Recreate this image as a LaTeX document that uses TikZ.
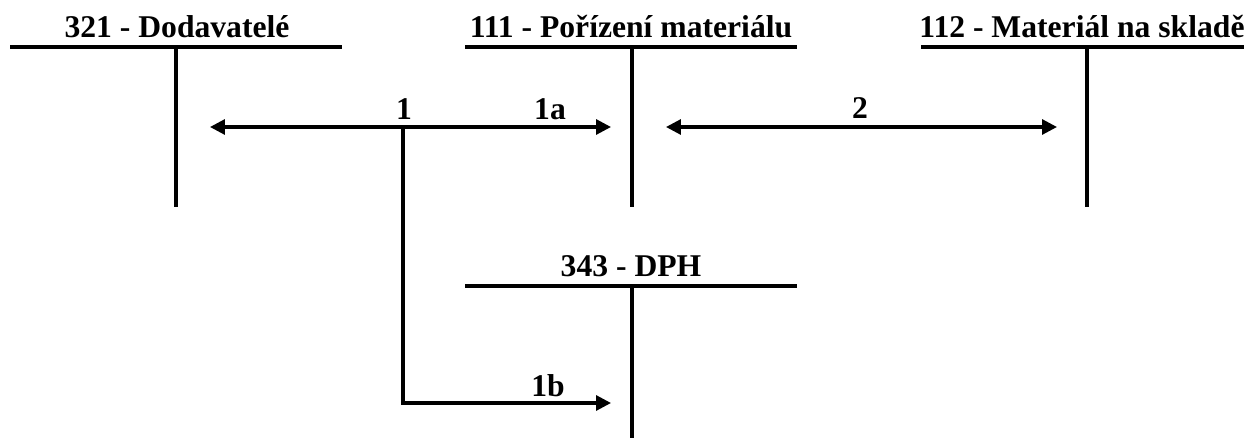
\documentclass[tikz,border=0pt]{standalone}
\usepackage{fontspec}
\setmainfont{Liberation Serif}
\usetikzlibrary{arrows.meta}
\begin{document}
\begin{tikzpicture}[x=0.2mm, y=-0.2mm,
    acctitle/.style={font=\fontsize{18}{21}\selectfont\bfseries, anchor=base, inner sep=0pt},
    tline/.style={line width=2.2pt},
    flow/.style={line width=1.8pt, -{Triangle[length=8.5pt,width=8.5pt]}},
    flowboth/.style={line width=1.8pt, {Triangle[length=8.5pt,width=8.5pt]}-{Triangle[length=8.5pt,width=8.5pt]}}]
    \useasboundingbox (0,0) rectangle (1244,438);

    % Draw the T accounts
    \draw[tline] (10,47) -- (342,47);
    \draw[tline] (176,47) -- (176,207);
    \node[acctitle] (t321) at (177,38) {321 - Dodavatelé};

    \draw[tline] (465,47) -- (797,47);
    \draw[tline] (632,47) -- (632,207);
    \node[acctitle] (t111) at (631,38) {111 - Pořízení materiálu};

    \draw[tline] (921,47) -- (1253,47);
    \draw[tline] (1087,47) -- (1087,207);
    \node[acctitle] (t112) at (1082,38) {112 - Materiál na skladě};

    \draw[tline] (465,286) -- (797,286);
    \draw[tline] (632,286) -- (632,438);
    \node[acctitle] (t343) at (631,276) {343 - DPH};

    % Arrow end points
    \coordinate (o1) at (403,127);
    \coordinate (e321) at (210,127);
    \coordinate (e111) at (611,127);
    \coordinate (s111) at (666,127);
    \coordinate (e112) at (1057,127);
    \coordinate (e343) at (611,403);

    % Postings
    \draw[flow] (o1) -- (e321);
    \draw[flow] (o1) -- (e111);
    \draw[flow] (o1) |- (e343);
    \draw[flowboth] (s111) -- (e112);

    % Label postings
    \node[acctitle] (l1) at (404,120) {1};
    \node[acctitle] (l1a) at (550,120) {1a};
    \node[acctitle] (l2) at (860,119) {2};
    \node[acctitle] (l1b) at (548,396) {1b};
\end{tikzpicture}
\end{document}
